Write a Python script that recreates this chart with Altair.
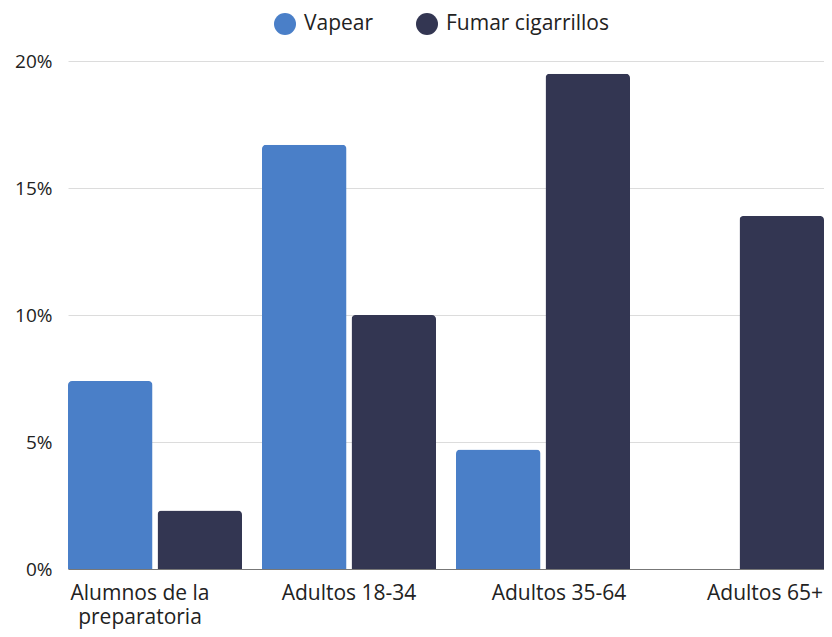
import altair as alt
import pandas as pd

categories = ["Alumnos de la preparatoria", "Adultos 18-34", "Adultos 35-64", "Adultos 65+"]
series = ["Vapear", "Fumar cigarrillos"]
vapear = [7.4, 16.7, 4.7, None]
fumar = [2.3, 10.0, 19.5, 13.9]
colors = ["#4a7fc8", "#333652"]

rows = []
for c, v, f in zip(categories, vapear, fumar):
    if v is not None:
        rows.append({"cat": c, "serie": series[0], "val": v})
    if f is not None:
        rows.append({"cat": c, "serie": series[1], "val": f})
df = pd.DataFrame(rows)

FONT = "Open Sans"

label_offset = {
    "condition": [
        {"test": f"datum.value == '{categories[0]}'", "value": -15},
        {"test": f"datum.value == '{categories[1]}'", "value": 0},
        {"test": f"datum.value == '{categories[2]}'", "value": 16},
        {"test": f"datum.value == '{categories[3]}'", "value": 28},
    ],
    "value": 0,
}

chart = alt.Chart(df).mark_bar(cornerRadiusTopLeft=4, cornerRadiusTopRight=4).encode(
    x=alt.X(
        "cat:N",
        sort=categories,
        title=None,
        scale=alt.Scale(paddingInner=20 / 194, paddingOuter=0),
        axis=alt.Axis(
            labelAngle=0,
            ticks=False,
            domain=True,
            domainColor="#777777",
            labelFont=FONT,
            labelFontSize=21,
            labelColor="#222222",
            labelPadding=13,
            labelLineHeight=24,
            labelOffset=label_offset,
            labelExpr=f"datum.value == '{categories[0]}' ? ['Alumnos de la', 'preparatoria'] : datum.value",
        ),
    ),
    xOffset=alt.XOffset("serie:N", sort=series, scale=alt.Scale(paddingInner=5 / 89.5)),
    y=alt.Y(
        "val:Q",
        title=None,
        scale=alt.Scale(domain=[0, 20]),
        axis=alt.Axis(
            values=[0, 5, 10, 15, 20],
            labelExpr="datum.value + '%'",
            domain=False,
            ticks=False,
            gridColor="#dcdcdc",
            labelFont=FONT,
            labelFontSize=19,
            labelColor="#222222",
            labelPadding=16,
        ),
    ),
    color=alt.Color(
        "serie:N",
        sort=series,
        scale=alt.Scale(domain=series, range=colors),
        legend=alt.Legend(
            title=None,
            orient="none",
            legendX=206,
            legendY=-48,
            direction="horizontal",
            symbolType="circle",
            symbolSize=484,
            symbolStrokeWidth=0,
            labelFont=FONT,
            labelFontSize=21,
            labelColor="#222222",
            labelOffset=8,
            labelLimit=400,
            columnPadding=42,
        ),
    ),
).properties(
    width=756,
    height=508,
    padding={"left": 60, "top": 53, "right": 0, "bottom": 60},
    autosize=alt.AutoSizeParams(type="none"),
).configure_view(stroke=None)

chart.save("out.html", embed_options={"renderer": "svg", "actions": False})
